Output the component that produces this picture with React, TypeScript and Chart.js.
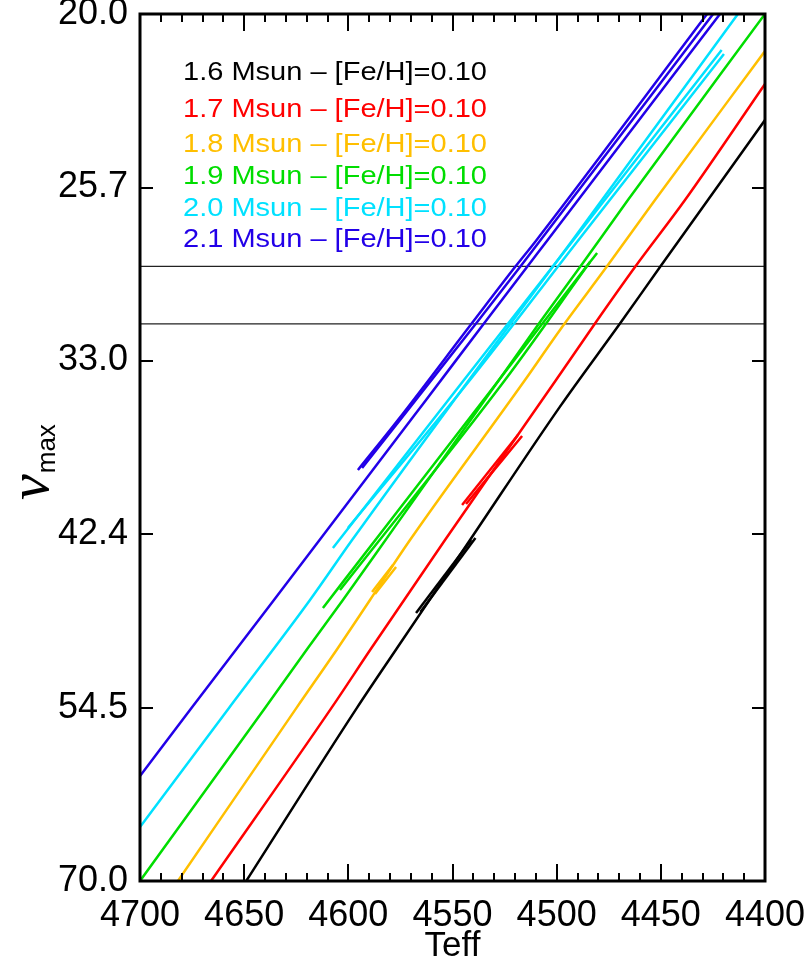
import React, { useEffect, useRef } from "react";
import { Chart, registerables } from "chart.js";

Chart.register(...registerables);

const FONT = '"Liberation Sans", Arial, Helvetica, sans-serif';

// Axis ticks
const xTickValues = [4700, 4650, 4600, 4550, 4500, 4450, 4400];
const xMinorStep = 10;
const yTickLabels = ["20.0", "25.7", "33.0", "42.4", "54.5", "70.0"];

// Horizontal reference lines (numax)
const refLinesNumax = [28.8, 31.3];
const refLinesTeff = [4700, 4400];

// Legend
const seriesLabels = [
  "1.6 Msun \u2013 [Fe/H]=0.10",
  "1.7 Msun \u2013 [Fe/H]=0.10",
  "1.8 Msun \u2013 [Fe/H]=0.10",
  "1.9 Msun \u2013 [Fe/H]=0.10",
  "2.0 Msun \u2013 [Fe/H]=0.10",
  "2.1 Msun \u2013 [Fe/H]=0.10",
];
const seriesColors = ["#000000", "#ff0000", "#ffbf00", "#00dd00", "#00e1ff", "#2200e8"];

// 1.6 Msun
const m16MainTeff = [4649.0, 4595.8, 4576.6, 4541.6, 4498.4, 4469.6, 4450.4, 4427.4, 4400.0];
const m16MainNumax = [70.0, 54.49, 49.99, 42.77, 35.27, 31.28, 28.83, 26.17, 23.31];
const m16LoopATeff = [4567.5, 4541.0];
const m16LoopANumax = [47.52, 42.77];
const m16LoopBTeff = [4565.4, 4539.0];
const m16LoopBNumax = [47.46, 42.65];

// 1.7 Msun
const m17MainTeff = [4665.9, 4608.0, 4588.9, 4553.6, 4500.3, 4481.6, 4462.4, 4438.4, 4400.0];
const m17MainNumax = [70.0, 54.49, 49.99, 42.77, 33.94, 31.28, 28.83, 26.17, 22.13];
const m17LoopATeff = [4545.4, 4518.6];
const m17LoopANumax = [40.66, 36.75];
const m17LoopBTeff = [4543.5, 4516.6];
const m17LoopBNumax = [40.6, 36.8];

// 1.8 Msun
const m18MainTeff = [4681.8, 4624.8, 4605.0, 4589.6, 4570.4, 4515.2, 4498.4, 4476.0, 4452.8, 4400.0];
const m18MainNumax = [70.0, 54.49, 49.99, 46.64, 42.77, 33.94, 31.57, 28.82, 26.17, 21.1];
const m18LoopATeff = [4588.6, 4578.6];
const m18LoopANumax = [46.1, 44.34];
const m18LoopBTeff = [4587.2, 4577.1];
const m18LoopBNumax = [46.24, 44.47];

// 1.9 Msun
const m19MainTeff = [4700.0, 4639.9, 4619.4, 4602.6, 4577.6, 4527.7, 4508.5, 4488.8, 4465.8, 4400.0];
const m19MainNumax = [70.0, 54.49, 49.99, 46.64, 41.95, 33.94, 31.28, 28.83, 26.17, 20.0];
const m19SecATeff = [4612.2, 4582.1, 4527.7, 4485.9, 4480.6];
const m19SecANumax = [47.18, 41.95, 33.94, 28.83, 28.25];
const m19SecBTeff = [4604.0, 4524.8, 4484.0];
const m19SecBNumax = [45.97, 33.94, 28.62];

// 2.0 Msun
const m20MainTeff = [4700.0, 4657.2, 4618.4, 4598.2, 4542.1, 4492.6, 4413.0];
const m20MainNumax = [64.75, 54.49, 46.64, 42.77, 33.94, 27.75, 20.0];
const m20SecATeff = [4607.4, 4544.5, 4492.2, 4420.8];
const m20SecANumax = [43.26, 33.94, 27.75, 21.07];
const m20SecBTeff = [4600.2, 4541.6, 4489.8, 4419.7];
const m20SecBNumax = [42.03, 33.94, 27.75, 21.19];

// 2.1 Msun
const m21MainTeff = [4700.0, 4675.2, 4635.7, 4562.7, 4534.9, 4504.6, 4421.6];
const m21MainNumax = [60.15, 54.49, 46.64, 34.93, 31.28, 27.75, 20.0];
const m21SecATeff = [4595.4, 4576.2, 4540.8, 4520.0, 4509.9, 4427.8];
const m21SecANumax = [38.65, 35.96, 31.28, 28.83, 27.75, 20.0];
const m21SecBTeff = [4593.4, 4538.7, 4517.6, 4424.9];
const m21SecBNumax = [38.54, 31.28, 28.83, 20.0];

type Track = { teff: number[]; numax: number[]; color: string };

const tracks: Track[] = [
  { teff: m16MainTeff, numax: m16MainNumax, color: seriesColors[0] },
  { teff: m16LoopATeff, numax: m16LoopANumax, color: seriesColors[0] },
  { teff: m16LoopBTeff, numax: m16LoopBNumax, color: seriesColors[0] },
  { teff: m17MainTeff, numax: m17MainNumax, color: seriesColors[1] },
  { teff: m17LoopATeff, numax: m17LoopANumax, color: seriesColors[1] },
  { teff: m17LoopBTeff, numax: m17LoopBNumax, color: seriesColors[1] },
  { teff: m18MainTeff, numax: m18MainNumax, color: seriesColors[2] },
  { teff: m18LoopATeff, numax: m18LoopANumax, color: seriesColors[2] },
  { teff: m18LoopBTeff, numax: m18LoopBNumax, color: seriesColors[2] },
  { teff: m19MainTeff, numax: m19MainNumax, color: seriesColors[3] },
  { teff: m19SecATeff, numax: m19SecANumax, color: seriesColors[3] },
  { teff: m19SecBTeff, numax: m19SecBNumax, color: seriesColors[3] },
  { teff: m20MainTeff, numax: m20MainNumax, color: seriesColors[4] },
  { teff: m20SecATeff, numax: m20SecANumax, color: seriesColors[4] },
  { teff: m20SecBTeff, numax: m20SecBNumax, color: seriesColors[4] },
  { teff: m21MainTeff, numax: m21MainNumax, color: seriesColors[5] },
  { teff: m21SecATeff, numax: m21SecANumax, color: seriesColors[5] },
  { teff: m21SecBTeff, numax: m21SecBNumax, color: seriesColors[5] },
];

const decorPlugin = {
  id: "decor",
  afterDraw(chart: any) {
    const { ctx, chartArea: a, scales } = chart;
    const xs = scales.x;
    const ys = scales.y;
    ctx.save();

    // ticks (inward, all four sides)
    ctx.strokeStyle = "#000";
    ctx.lineWidth = 2;
    ctx.beginPath();
    for (let t = xs.min; t <= xs.max + 0.001; t += xMinorStep) {
      const px = Math.round(xs.getPixelForValue(t));
      const major = xTickValues.includes(Math.round(t));
      const len = major ? 17 : 8;
      ctx.moveTo(px, a.bottom);
      ctx.lineTo(px, a.bottom - len);
      ctx.moveTo(px, a.top);
      ctx.lineTo(px, a.top + len);
    }
    for (const lab of yTickLabels) {
      const py = Math.round(ys.getPixelForValue(parseFloat(lab)));
      ctx.moveTo(a.left, py);
      ctx.lineTo(a.left + 13, py);
      ctx.moveTo(a.right, py);
      ctx.lineTo(a.right - 13, py);
    }
    ctx.stroke();

    // frame
    ctx.lineWidth = 3;
    ctx.strokeRect(a.left, a.top, a.right - a.left, a.bottom - a.top);

    // legend text (slightly wide lettering, as in the original)
    ctx.textAlign = "left";
    ctx.textBaseline = "alphabetic";
    ctx.font = `26px ${FONT}`;
    const legendBaselines = [80, 116.7, 151.7, 184, 216, 246.7];
    const legendWidth = 304;
    seriesLabels.forEach((lab, i) => {
      const mw = ctx.measureText(lab).width;
      ctx.save();
      ctx.translate(a.left + 43, legendBaselines[i]);
      ctx.scale(legendWidth / mw, 1);
      ctx.fillStyle = seriesColors[i];
      ctx.fillText(lab, 0, 0);
      ctx.restore();
    });

    // x title
    ctx.fillStyle = "#000";
    ctx.font = `35px ${FONT}`;
    ctx.textAlign = "center";
    ctx.textBaseline = "middle";
    ctx.fillText("Teff", (a.left + a.right) / 2, 946);

    // y title: nu_max
    ctx.translate(48, 500);
    ctx.rotate(-Math.PI / 2);
    ctx.textAlign = "left";
    ctx.textBaseline = "alphabetic";
    ctx.font = `italic 58px "Liberation Serif", serif`;
    ctx.fillText("\u03BD", 0, 0);
    const w = ctx.measureText("\u03BD").width;
    ctx.font = `26px ${FONT}`;
    ctx.fillText("max", w + 1, 7);

    ctx.restore();
  },
};

export default function App() {
  const ref = useRef<HTMLCanvasElement>(null);

  useEffect(() => {
    const canvas = ref.current;
    if (!canvas) return;
    const datasets: any[] = [
      ...tracks.map((t) => ({
        data: t.teff.map((x, i) => ({ x, y: t.numax[i] })),
        borderColor: t.color,
        backgroundColor: t.color,
        borderWidth: 2.5,
        showLine: true,
        pointRadius: 0,
        fill: false,
        tension: 0.3,
        cubicInterpolationMode: "monotone",
      })),
      ...refLinesNumax.map((v) => ({
        data: refLinesTeff.map((x) => ({ x, y: v })),
        borderColor: "#222222",
        backgroundColor: "#222222",
        borderWidth: 1.2,
        showLine: true,
        pointRadius: 0,
        fill: false,
      })),
    ];

    const chart = new Chart(canvas, {
      type: "scatter",
      data: { datasets },
      options: {
        responsive: false,
        animation: false,
        devicePixelRatio: 1,
        layout: { padding: { left: 0, right: 46, top: 14, bottom: 0 } },
        plugins: { legend: { display: false }, tooltip: { enabled: false } },
        scales: {
          x: {
            type: "linear",
            reverse: true,
            min: 4400,
            max: 4700,
            afterBuildTicks: (s: any) => {
              s.ticks = xTickValues.map((v) => ({ value: v }));
            },
            afterFit: (s: any) => {
              s.height = 89;
              s.paddingLeft = 0;
              s.paddingRight = 0;
              s.paddingTop = 0;
              s.paddingBottom = 0;
            },
            ticks: {
              autoSkip: false,
              maxRotation: 0,
              padding: 13,
              color: "#000",
              font: { family: FONT, size: 36 },
              callback: (v: any) => String(v),
            },
            grid: { display: false, drawTicks: false },
            border: { display: false },
          },
          y: {
            type: "logarithmic",
            reverse: true,
            min: 20,
            max: 70,
            afterBuildTicks: (s: any) => {
              s.ticks = yTickLabels.map((l) => ({ value: parseFloat(l) }));
            },
            afterFit: (s: any) => {
              s.width = 140;
              s.paddingLeft = 0;
              s.paddingRight = 0;
              s.paddingTop = 0;
              s.paddingBottom = 0;
            },
            ticks: {
              autoSkip: false,
              padding: 12,
              color: "#000",
              font: { family: FONT, size: 36 },
              callback: (_v: any, i: number) => yTickLabels[i],
            },
            grid: { display: false, drawTicks: false },
            border: { display: false },
          },
        },
      },
      plugins: [decorPlugin],
    } as any);

    return () => chart.destroy();
  }, []);

  return (
    <canvas
      ref={ref}
      width={811}
      height={970}
      style={{ display: "block", position: "absolute", left: 0, top: 0, width: 811, height: 970 }}
    />
  );
}
